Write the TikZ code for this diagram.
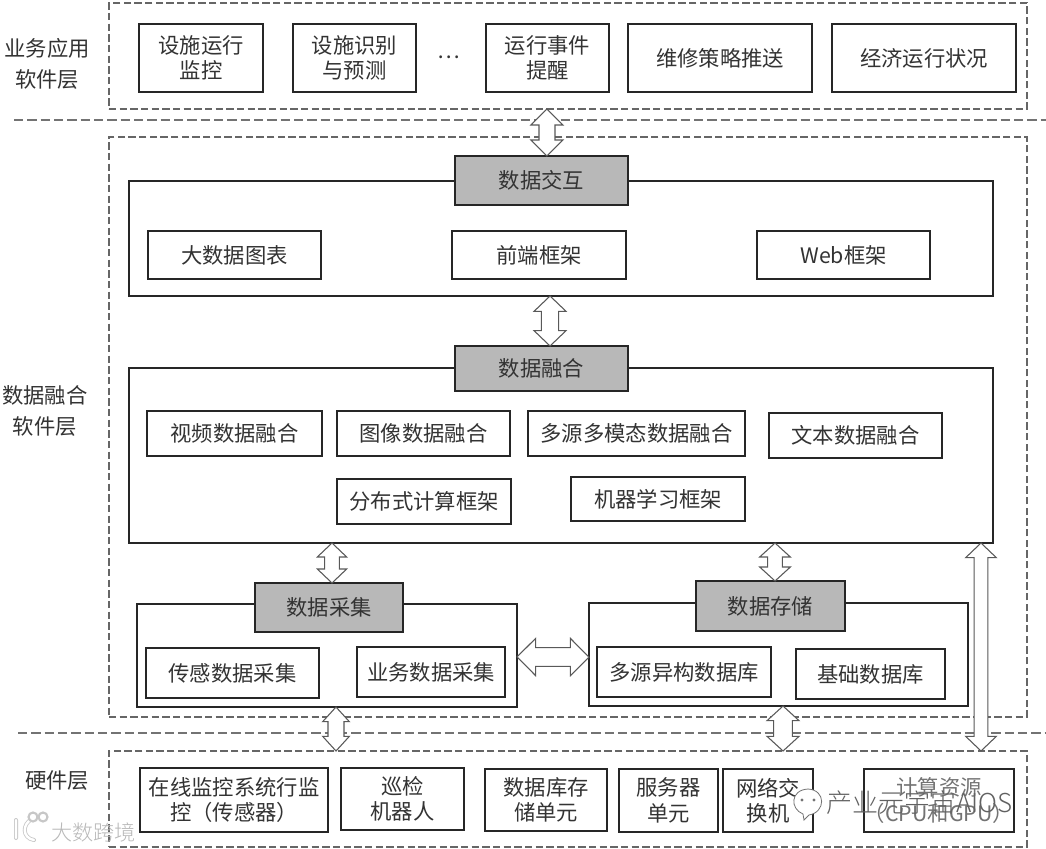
\documentclass[tikz,border=0pt]{standalone}
\usepackage{fontspec}
\setmainfont{Noto Sans CJK SC}
\newfontfamily\wmfont{Noto Sans CJK SC Light}
\usetikzlibrary{calc}
\tikzset{
  x=0.75pt,y=-0.75pt,
  dbox/.style={draw=black!85,line width=1.9pt,fill=white,inner sep=0pt,outer sep=0pt,align=center,text=black!80,font=\fontsize{16}{19}\selectfont},
  sbox/.style={dbox,line width=1.6pt},
  graybox/.style={dbox,fill=black!28},
  hbox/.style={draw=black!85,line width=1.6pt,inner sep=0pt,outer sep=0pt},
  layer/.style={draw=black!60,dash pattern=on 5.5pt off 2.5pt,line width=0.8pt,inner sep=0pt,outer sep=0pt},
  divider/.style={draw=black!55,dash pattern=on 7pt off 3pt,line width=0.8pt},
  hollow/.style={draw=black!65,line width=0.8pt,fill=white,line join=miter},
  lab/.style={text=black!80,align=center,font=\fontsize{16}{23}\selectfont},
  wmarkA/.style={inner sep=0pt,text=black!62,font=\wmfont\fontsize{19.5}{22}\selectfont},
  wmarkB/.style={inner sep=0pt,text=black!28,font=\wmfont\fontsize{15.8}{20}\selectfont},
}
% \bx{name}{x1}{y1}{x2}{y2}{style}{text}
\newcommand{\bx}[7]{%
  \pgfmathsetmacro{\bw}{(#4-#2)*0.75}\pgfmathsetmacro{\bh}{(#5-#3)*0.75}%
  \node[#6,minimum width=\bw pt,minimum height=\bh pt] (#1) at ({(#2+#4)/2},{(#3+#5)/2}) {#7};}
% \harrow{from}{to}{head length}{head half}{shaft half}
\newcommand{\harrow}[5]{%
  \coordinate (h1) at #1;\coordinate (h2) at #2;
  \draw[hollow] (h1)
   -- ($(h1)!#3!(h2)!#4!90:(h2)$) -- ($(h1)!#3!(h2)!#5!90:(h2)$)
   -- ($(h2)!#3!(h1)!#5!-90:(h1)$) -- ($(h2)!#3!(h1)!#4!-90:(h1)$)
   -- (h2)
   -- ($(h2)!#3!(h1)!#4!90:(h1)$) -- ($(h2)!#3!(h1)!#5!90:(h1)$)
   -- ($(h1)!#3!(h2)!#5!-90:(h2)$) -- ($(h1)!#3!(h2)!#4!-90:(h2)$)
   -- cycle;}
\begin{document}
\begin{tikzpicture}
\useasboundingbox (0,0) rectangle (1046,849);
\fill[white] (0,0) rectangle (1046,849);
% layers
\bx{appL}{109}{3}{1027}{109}{layer}{}
\bx{dataL}{109}{137}{1027}{717}{layer}{}
\bx{hwL}{109}{751}{1027}{847}{layer}{}
\coordinate (d1a) at (14,120);\coordinate (d1b) at (1046,120);
\coordinate (d2a) at (18,733);\coordinate (d2b) at (1046,733);
\draw[divider] (d1a) -- (d1b);
\draw[divider] (d2a) -- (d2b);
\node[lab] (l1) at (47,64) {业务应用\\软件层};
\node[lab] (l2) at (45,411) {数据融合\\软件层};
\node[lab] (l3) at (57,781) {硬件层};
% application row
\bx{a1}{139}{24}{263}{92}{dbox}{设施运行\\监控}
\bx{a2}{293}{24}{416}{92}{dbox}{设施识别\\与预测}
\node[lab] (adots) at (449,57) {…};
\bx{a3}{486}{24}{609}{92}{dbox}{运行事件\\提醒}
\bx{a4}{628}{24}{812}{92}{dbox}{维修策略推送}
\bx{a5}{832}{24}{1016}{92}{dbox}{经济运行状况}
% interaction
\bx{ioO}{129}{181}{993}{296}{hbox}{}
\bx{ioH}{455}{156}{628}{205}{graybox}{数据交互}
\bx{io1}{148}{231}{321}{279}{sbox}{大数据图表}
\bx{io2}{452}{231}{626}{279}{sbox}{前端框架}
\bx{io3}{757}{231}{930}{279}{sbox}{Web框架}
% fusion
\bx{fuO}{129}{368}{993}{543}{hbox}{}
\bx{fuH}{455}{346}{628}{391}{graybox}{数据融合}
\bx{fu1}{147}{411}{322}{456}{sbox}{视频数据融合}
\bx{fu2}{337}{411}{510}{456}{sbox}{图像数据融合}
\bx{fu3}{528}{411}{745}{456}{sbox}{多源多模态数据融合}
\bx{fu4}{769}{413}{942}{458}{sbox}{文本数据融合}
\bx{fu5}{337}{479}{511}{524}{sbox}{分布式计算框架}
\bx{fu6}{571}{477}{745}{521}{sbox}{机器学习框架}
% collection
\bx{coO}{137}{604}{517}{707}{hbox}{}
\bx{coH}{255}{583}{403}{632}{graybox}{数据采集}
\bx{co1}{146}{648}{319}{698}{sbox}{传感数据采集}
\bx{co2}{357}{647}{505}{697}{sbox}{业务数据采集}
% storage
\bx{stO}{589}{603}{968}{706}{hbox}{}
\bx{stH}{696}{581}{845}{631}{graybox}{数据存储}
\bx{st1}{597}{647}{771}{697}{sbox}{多源异构数据库}
\bx{st2}{796}{649}{945}{699}{sbox}{基础数据库}
% hardware
\bx{hw1}{140}{768}{328}{832}{dbox}{在线监控系统行监\\控（传感器）}
\bx{hw2}{341}{768}{464}{830}{dbox}{巡检\\机器人}
\bx{hw3}{485}{769}{607}{831}{dbox}{数据库存\\储单元}
\bx{hw4}{619}{769}{718}{832}{dbox}{服务器\\单元}
\bx{hw5}{723}{769}{813}{832}{dbox}{网络交\\换机}
\bx{hw6}{865}{769}{1013}{832}{dbox,text=black!55}{计算资源\\（CPU和GPU）}
% connectors
\coordinate (c1) at ([xshift=4.1pt]ioH.north);
\harrow{(c1)}{(c1 |- appL.south)}{12pt}{12pt}{6pt}
\coordinate (c2) at ([xshift=6.4pt]fuH.north);
\harrow{(c2)}{(c2 |- ioO.south)}{11.5pt}{12pt}{6.5pt}
\coordinate (c3) at ([xshift=2.25pt]coH.north);
\harrow{(c3)}{(c3 |- fuO.south)}{10.5pt}{11pt}{5.5pt}
\coordinate (c4) at ([xshift=3.4pt]stH.north);
\harrow{(c4)}{(c4 |- fuO.south)}{10.5pt}{11.5pt}{5.5pt}
\harrow{([yshift=-1.1pt]coO.east)}{([yshift=-1.9pt]stO.west)}{14pt}{14pt}{7pt}
\coordinate (c6) at ([xshift=6.75pt]coO.south);
\harrow{(c6)}{(c6 |- hwL.north)}{11pt}{10pt}{6pt}
\coordinate (c7) at ([xshift=3.4pt]stO.south);
\harrow{(c7)}{(c7 |- hwL.north)}{11pt}{12pt}{7pt}
\coordinate (c8) at ([xshift=-9pt]fuO.south east);
\harrow{(c8)}{(c8 |- hwL.north)}{11pt}{11.5pt}{5.2pt}
% watermarks
\draw[draw=black!55,line width=0.6pt,fill=white] (809,815) -- (804,820) -- (803,814) .. controls (790,809) and (790,790) .. (808,789) .. controls (826,790) and (826,812) .. (809,815) -- cycle;
\fill[black!55] (802,800) circle (1.6);
\fill[black!55] (814,800) circle (1.6);
\node[wmarkA,anchor=west] (wm1) at (826,803) {产业元宇宙AIOS};
\draw[draw=black!22,line width=3pt,line cap=round] (16,820) -- (16,838) (32,819) .. controls (22,824) and (22,838) .. (34,840);
\draw[draw=white,line width=1.8pt,line cap=round] (16,820) -- (16,838) (32,819) .. controls (22,824) and (22,838) .. (34,840);
\draw[draw=black!22,line width=1.6pt,fill=white] (33,817) circle (4.5) (43,817) circle (4.5);
\node[wmarkB,anchor=west] (wm2) at (51,832) {大数跨境};
\end{tikzpicture}
\end{document}
